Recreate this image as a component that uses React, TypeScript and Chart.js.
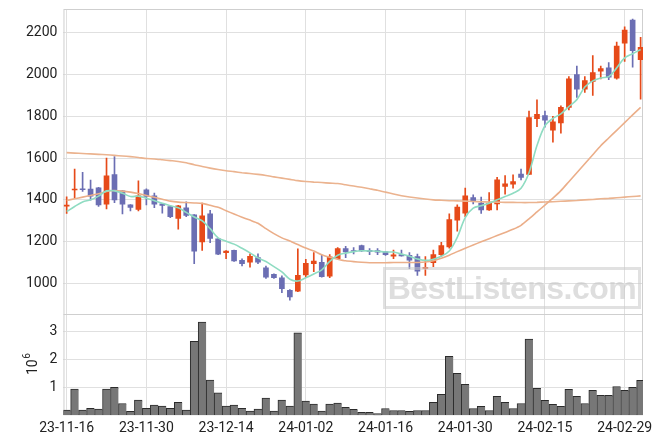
import React, { useEffect, useRef } from 'react';
import { Chart, registerables } from 'chart.js';

Chart.register(...registerables);

// x tick positions (trading-day index) and their labels
const tickIndex = [0, 10, 20, 30, 40, 50, 60, 70];
const tickLabels = ['23-11-16', '23-11-30', '23-12-14', '24-01-02', '24-01-16', '24-01-30', '24-02-15', '24-02-29'];

const priceTicks = [1000, 1200, 1400, 1600, 1800, 2000, 2200];
const volumeTicks = [1, 2, 3];
const volumeTitleBase = '10';
const volumeTitleExp = '6';

const openP = [1370, 1448, 1453, 1452, 1458, 1379, 1521, 1443, 1376, 1354, 1448, 1419, 1381, 1368, 1311, 1362, 1328, 1198, 1333, 1213, 1147, 1158, 1110, 1102, 1123, 1075, 1043, 1027, 967, 963, 1040, 1094, 1101, 1035, 1118, 1167, 1157, 1181, 1158, 1157, 1151, 1130, 1138, 1134, 1128, 1072, 1099, 1138, 1175, 1303, 1336, 1411, 1384, 1352, 1381, 1464, 1475, 1524, 1522, 1789, 1804, 1734, 1769, 1843, 2000, 1930, 1967, 2016, 2032, 1983, 2150, 2261, 2071];
const highP = [1415, 1547, 1532, 1495, 1460, 1600, 1607, 1446, 1377, 1491, 1453, 1432, 1383, 1374, 1374, 1390, 1330, 1385, 1350, 1215, 1157, 1160, 1117, 1141, 1141, 1083, 1046, 1036, 970, 1166, 1115, 1147, 1135, 1138, 1172, 1178, 1172, 1183, 1167, 1167, 1152, 1159, 1160, 1147, 1140, 1128, 1160, 1196, 1333, 1376, 1456, 1424, 1413, 1435, 1508, 1516, 1520, 1547, 1825, 1879, 1825, 1800, 1850, 1990, 2041, 1990, 2091, 2041, 2057, 2155, 2229, 2266, 2178];
const lowP = [1335, 1408, 1440, 1398, 1368, 1357, 1387, 1333, 1347, 1347, 1376, 1363, 1336, 1315, 1260, 1320, 1094, 1158, 1195, 1137, 1118, 1105, 1083, 1078, 1094, 1024, 1024, 955, 919, 960, 1027, 1056, 1030, 1027, 1116, 1123, 1141, 1153, 1138, 1138, 1134, 1118, 1130, 1070, 1038, 1038, 1080, 1128, 1169, 1250, 1320, 1381, 1335, 1349, 1352, 1427, 1456, 1496, 1520, 1751, 1748, 1676, 1719, 1831, 1891, 1914, 1900, 1979, 1976, 1978, 2063, 2035, 1882];
const closeP = [1375, 1452, 1449, 1418, 1376, 1515, 1400, 1379, 1364, 1419, 1416, 1379, 1373, 1320, 1371, 1325, 1154, 1323, 1215, 1140, 1155, 1107, 1094, 1130, 1102, 1030, 1027, 975, 935, 1038, 1096, 1107, 1032, 1127, 1167, 1151, 1154, 1155, 1152, 1150, 1138, 1137, 1132, 1111, 1059, 1077, 1138, 1181, 1306, 1365, 1419, 1393, 1352, 1384, 1496, 1477, 1488, 1507, 1794, 1809, 1782, 1774, 1843, 1979, 1930, 1971, 2010, 2029, 1988, 2137, 2213, 2114, 2131];

// volume in millions of shares
const volumeM = [0.18, 0.94, 0.18, 0.25, 0.22, 0.94, 1.0, 0.42, 0.14, 0.54, 0.25, 0.36, 0.33, 0.25, 0.46, 0.18, 2.65, 3.34, 1.26, 0.8, 0.33, 0.36, 0.25, 0.15, 0.22, 0.61, 0.15, 0.54, 0.33, 2.95, 0.51, 0.4, 0.15, 0.4, 0.43, 0.28, 0.21, 0.1, 0.1, 0.06, 0.24, 0.17, 0.17, 0.14, 0.17, 0.17, 0.46, 0.75, 2.11, 1.5, 1.11, 0.24, 0.32, 0.17, 0.68, 0.46, 0.24, 0.42, 2.73, 0.96, 0.53, 0.39, 0.32, 0.93, 0.68, 0.42, 0.89, 0.71, 0.71, 1.03, 0.89, 1.0, 1.25];

const maShort = [1344, 1368, 1390, 1400, 1418, 1443, 1443, 1432, 1416, 1418, 1408, 1396, 1384, 1372, 1362, 1340, 1318, 1300, 1262, 1218, 1202, 1188, 1168, 1146, 1122, 1105, 1080, 1055, 1020, 1011, 1027, 1045, 1065, 1105, 1135, 1145, 1152, 1156, 1155, 1154, 1150, 1150, 1140, 1130, 1117, 1110, 1116, 1130, 1155, 1220, 1315, 1360, 1372, 1384, 1400, 1416, 1432, 1456, 1530, 1660, 1755, 1790, 1812, 1847, 1880, 1940, 1970, 1984, 1990, 2032, 2080, 2100, 2120];
const maMid = [1397, 1405, 1413, 1421, 1429, 1440, 1445, 1442, 1437, 1430, 1421, 1412, 1403, 1394, 1389, 1387, 1385, 1383, 1374, 1364, 1348, 1332, 1317, 1303, 1288, 1262, 1238, 1218, 1203, 1186, 1169, 1155, 1137, 1125, 1116, 1108, 1104, 1101, 1099, 1099, 1099, 1100, 1100, 1100, 1100, 1102, 1108, 1120, 1135, 1152, 1168, 1184, 1199, 1214, 1229, 1244, 1259, 1278, 1309, 1342, 1375, 1408, 1444, 1487, 1530, 1573, 1616, 1659, 1696, 1733, 1770, 1807, 1843];
const maLong = [1626, 1624, 1622, 1620, 1618, 1616, 1613, 1610, 1607, 1603, 1598, 1596, 1592, 1588, 1584, 1578, 1568, 1560, 1552, 1545, 1539, 1535, 1530, 1526, 1522, 1517, 1510, 1504, 1498, 1492, 1488, 1485, 1483, 1480, 1478, 1472, 1466, 1460, 1453, 1446, 1437, 1428, 1420, 1414, 1409, 1404, 1400, 1398, 1396, 1395, 1394, 1392, 1391, 1390, 1389, 1388, 1388, 1387, 1387, 1388, 1390, 1391, 1393, 1395, 1397, 1400, 1402, 1405, 1407, 1410, 1413, 1416, 1419];

const UP = '#e64a19';
const DOWN = '#6b6eb3';
const GRID = '#e0e0e0';
const FRAME = '#cfcfcf';
const TEXT = '#222';

const noPadding = (s: any) => {
  s.paddingTop = 0;
  s.paddingBottom = 0;
  s.paddingLeft = 0;
  s.paddingRight = 0;
};

const framePlugin = {
  id: 'frame',
  beforeDatasetsDraw(chart: any) {
    const { ctx, chartArea } = chart;
    const yv = chart.scales.yv;
    ctx.save();
    ctx.strokeStyle = FRAME;
    ctx.lineWidth = 1;
    ctx.strokeRect(chartArea.left + 0.5, chartArea.top + 0.5, chartArea.right - chartArea.left - 1, chartArea.bottom - chartArea.top - 1);
    ctx.beginPath();
    ctx.moveTo(chartArea.left, Math.round(yv.top) + 0.5);
    ctx.lineTo(chartArea.right, Math.round(yv.top) + 0.5);
    ctx.stroke();
    ctx.restore();
  },
  afterDraw(chart: any) {
    // volume axis title "10^6" with a real superscript
    const { ctx } = chart;
    const yv = chart.scales.yv;
    const cx = yv.left + 12;
    const cy = (yv.top + yv.bottom) / 2;
    ctx.save();
    ctx.translate(cx, cy);
    ctx.rotate(-Math.PI / 2);
    ctx.fillStyle = TEXT;
    ctx.textBaseline = 'middle';
    ctx.font = '14px Roboto';
    const w1 = ctx.measureText(volumeTitleBase).width;
    ctx.font = '10px Roboto';
    const w2 = ctx.measureText(volumeTitleExp).width;
    const start = -(w1 + w2) / 2;
    ctx.font = '14px Roboto';
    ctx.textAlign = 'left';
    ctx.fillText(volumeTitleBase, start, 1);
    ctx.font = '10px Roboto';
    ctx.fillText(volumeTitleExp, start + w1 + 0.5, -5);
    ctx.restore();
  },
};

export default function App() {
  const ref = useRef<HTMLCanvasElement | null>(null);

  useEffect(() => {
    if (!ref.current) return;
    Chart.defaults.font.family = 'Roboto';
    Chart.defaults.font.size = 14;
    Chart.defaults.color = TEXT;

    const idx = openP.map((_, i) => i);
    const colors = idx.map((i) => (closeP[i] >= openP[i] ? UP : DOWN));
    const lineDs = (data: number[], color: string, tension: number) => ({
      type: 'line' as const,
      data: idx.map((i) => ({ x: i, y: data[i] })),
      borderColor: color,
      borderWidth: 1.6,
      pointRadius: 0,
      tension,
      yAxisID: 'y',
      order: 0,
    });

    const chart = new Chart(ref.current, {
      type: 'bar',
      data: {
        datasets: [
          lineDs(maShort, '#8fdcc2', 0.35),
          lineDs(maMid, '#ebae89', 0.2),
          lineDs(maLong, '#ebb38f', 0.2),
          {
            type: 'bar',
            data: idx.map((i) => ({ x: i, y: [openP[i], closeP[i]] })),
            backgroundColor: colors,
            barThickness: 5,
            grouped: false,
            yAxisID: 'y',
            order: 1,
          } as any,
          {
            type: 'bar',
            data: idx.map((i) => ({ x: i, y: [lowP[i], highP[i]] })),
            backgroundColor: colors,
            barThickness: 1,
            grouped: false,
            yAxisID: 'y',
            order: 2,
          } as any,
          {
            type: 'bar',
            data: idx.map((i) => ({ x: i, y: volumeM[i] })),
            backgroundColor: '#777777',
            borderColor: '#2b2b2b',
            borderWidth: { top: 1, left: 1, right: 0, bottom: 0 },
            barPercentage: 1,
            categoryPercentage: 1,
            grouped: false,
            yAxisID: 'yv',
            order: 3,
          } as any,
        ],
      },
      options: {
        animation: false,
        responsive: false,
        layout: { padding: { left: 20, right: 20, top: 9, bottom: 2 } },
        plugins: { legend: { display: false }, tooltip: { enabled: false } },
        scales: {
          x: {
            type: 'linear',
            offset: false,
            min: -0.4,
            max: 72.3,
            afterBuildTicks: (s: any) => {
              s.ticks = tickIndex.map((v) => ({ value: v }));
            },
            afterFit: noPadding,
            ticks: {
              autoSkip: false,
              maxRotation: 0,
              padding: 5,
              callback: (v: any) => tickLabels[tickIndex.indexOf(Number(v))],
            },
            grid: { color: GRID, drawTicks: false, offset: false },
            border: { display: false },
          },
          yv: {
            type: 'linear',
            position: 'left',
            stack: 'main',
            stackWeight: 1,
            min: 0,
            max: 3.64,
            afterBuildTicks: (s: any) => {
              s.ticks = volumeTicks.map((v) => ({ value: v }));
            },
            afterFit: noPadding,
            ticks: { padding: 6, callback: (v: any) => String(v) },
            title: { display: true, text: '10⁶', color: 'rgba(0,0,0,0)', padding: { top: 4, bottom: 2 } },
            grid: { color: GRID, drawTicks: false },
            border: { display: false },
          },
          y: {
            type: 'linear',
            position: 'left',
            stack: 'main',
            stackWeight: 3,
            min: 855,
            max: 2314,
            afterBuildTicks: (s: any) => {
              s.ticks = priceTicks.map((v) => ({ value: v }));
            },
            afterFit: noPadding,
            ticks: { padding: 6, callback: (v: any) => String(v) },
            grid: { color: GRID, drawTicks: false },
            border: { display: false },
          },
        } as any,
      },
      plugins: [framePlugin],
    });
    return () => chart.destroy();
  }, []);

  return (
    <div style={{ position: 'fixed', left: 0, top: 0, width: 663, height: 444 }}>
      <canvas ref={ref} width={663} height={444} style={{ display: 'block' }} />
      <div
        style={{
          position: 'absolute',
          left: 383,
          top: 267,
          width: 252,
          height: 36,
          border: '3px solid rgba(200,200,200,0.55)',
          color: 'rgba(195,195,195,0.55)',
          fontFamily: '"Liberation Sans", Arial, sans-serif',
          fontWeight: 'bold',
          fontSize: 32,
          lineHeight: '36px',
          textAlign: 'center',
          letterSpacing: -0.5,
          pointerEvents: 'none',
          whiteSpace: 'nowrap',
        }}
      >
        BestListens.com
      </div>
    </div>
  );
}
